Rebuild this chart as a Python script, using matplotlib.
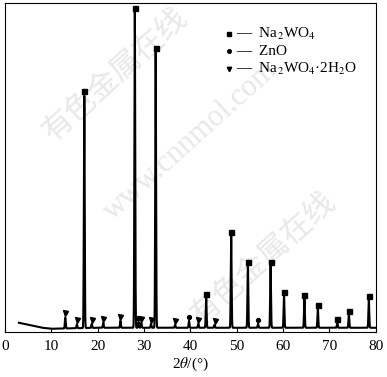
import matplotlib
matplotlib.use("Agg")
import matplotlib.pyplot as plt
import numpy as np

plt.rcParams['font.family'] = ['Liberation Serif', 'Noto Sans CJK SC']
plt.rcParams['mathtext.fontset'] = 'stix'

# Na2WO4 peaks (2theta, height)
sq_pos = [17.1, 28.0, 32.5, 43.4, 48.8, 52.4, 57.3, 60.2, 64.6, 67.5, 71.7, 74.2, 78.5]
sq_h = [233, 316, 276, 30, 92, 62, 62, 32, 29, 19, 5, 13, 28]
# ZnO peaks
zn_pos = [28.8, 39.7, 54.6]
zn_h = [6, 7, 4]
# Na2WO4.2H2O peaks
tri_pos = [13.0, 15.5, 18.7, 21.2, 24.9, 29.4, 31.5, 36.7, 41.7, 45.2]
tri_h = [11, 4, 4, 5, 7, 5, 4, 3, 4, 3]
# background points
bg_x = [3, 5, 8, 10, 20, 40, 60, 80]
bg_y = [9, 7, 4, 3, 4, 4, 4, 4]

x = np.linspace(3, 80, 6000)
y = np.interp(x, bg_x, bg_y)
for p, h in zip(sq_pos + zn_pos + tri_pos, sq_h + zn_h + tri_h):
    y += h * np.exp(-0.5 * ((x - p) / 0.09) ** 2)

fig = plt.figure(figsize=(3.87, 3.77), dpi=100)
ax = fig.add_axes([0.013, 0.12, 0.958, 0.872])

# watermark
wm = dict(color='#e8e8e8', fontsize=22, rotation=42, ha='center', va='center',
          transform=ax.transAxes, zorder=0)
ax.text(0.30, 0.78, '有色金属在线', **wm)
ax.text(0.50, 0.58, 'www.cnnmol.com', **wm)
ax.text(0.70, 0.22, '有色金属在线', **wm)

ax.plot(x, y, color='black', lw=1.5)

off = 4
ax.plot(sq_pos, np.array(sq_h) + bg_y[-1] + off, 's', color='black', ms=3.6)
ax.plot(zn_pos, np.array(zn_h) + bg_y[-1] + off, 'o', color='black', ms=2.8)
ax.plot(tri_pos, np.array(tri_h) + bg_y[-1] + off, 'v', color='black', ms=3.6)

ax.set_xlim(0, 80)
ax.set_ylim(0, 329)
ax.set_yticks([])
ax.set_xticks(range(0, 81, 10))
ax.tick_params(axis='x', direction='in', length=3, labelsize=11, pad=6)
ax.set_xlabel(r'2$\theta$/(°)', fontsize=11, labelpad=2)

# legend
entries = [('s', 3.2, r'—  Na$_2$WO$_4$'), ('o', 2.6, '—  ZnO'),
           ('v', 3.2, r'—  Na$_2$WO$_4$·2H$_2$O')]
for i, (m, s, lab) in enumerate(entries):
    yy = 0.906 - i * 0.053
    ax.plot([0.603], [yy], m, color='black', ms=s, transform=ax.transAxes)
    ax.text(0.622, yy, lab, transform=ax.transAxes, fontsize=11, va='center')

fig.savefig('out.png', dpi=100)
